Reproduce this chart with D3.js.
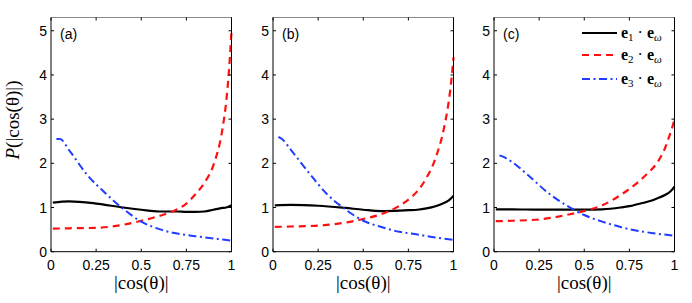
<!DOCTYPE html>
<html>
<head>
<meta charset="utf-8">
<script src="https://cdn.jsdelivr.net/npm/d3@7"></script>
<style>
  body { margin: 0; background: #fff; }
  svg { display: block; }
</style>
</head>
<body>
<svg id="chart" width="692" height="303"></svg>
<script>
const width = 692
const height = 303

// sample positions along |cos(theta)|
const xLine = [0.01, 0.1, 0.25, 0.4, 0.5, 0.6, 0.7, 0.75, 0.8, 0.85, 0.9, 0.95, 0.97, 0.99, 1.0]
const xDash = [0.03, 0.05, 0.1, 0.2, 0.3, 0.4, 0.5, 0.6, 0.7, 0.8, 0.9, 1.0]

const panelLabels = ['(a)', '(b)', '(c)']
const xTicks = [0, 0.25, 0.5, 0.75, 1]
const yTicks = [0, 1, 2, 3, 4, 5]

// panel (a)
const e1A = [1.11, 1.14, 1.09, 1.0, 0.95, 0.91, 0.91, 0.90, 0.90, 0.91, 0.95, 0.99, 1.0, 1.03, 1.05]
const e2A = [0.52, 0.53, 0.54, 0.61, 0.70, 0.81, 0.96, 1.09, 1.30, 1.56, 1.96, 2.78, 3.37, 4.33, 5.0]
const e3A = [2.55, 2.55, 2.3, 1.74, 1.33, 0.97, 0.68, 0.51, 0.41, 0.35, 0.30, 0.25]
// panel (b)
const e1B = [1.05, 1.06, 1.04, 0.99, 0.95, 0.92, 0.93, 0.94, 0.95, 0.98, 1.03, 1.11, 1.15, 1.22, 1.27]
const e2B = [0.56, 0.57, 0.59, 0.66, 0.74, 0.85, 1.04, 1.18, 1.37, 1.67, 2.11, 2.85, 3.3, 3.95, 4.4]
const e3B = [2.6, 2.55, 2.3, 1.78, 1.30, 0.96, 0.70, 0.56, 0.45, 0.39, 0.32, 0.27]
// panel (c)
const e1C = [0.96, 0.96, 0.95, 0.95, 0.95, 0.96, 1.0, 1.03, 1.08, 1.13, 1.2, 1.29, 1.34, 1.42, 1.47]
const e2C = [0.69, 0.70, 0.73, 0.83, 0.92, 1.05, 1.28, 1.42, 1.58, 1.77, 1.99, 2.37, 2.6, 2.85, 3.0]
const e3C = [2.18, 2.15, 2.03, 1.69, 1.33, 1.05, 0.83, 0.68, 0.56, 0.47, 0.41, 0.36]

const seriesStyle = [
  { name: '1', color: '#000000', dash: null, width: 2.2 },
  { name: '2', color: '#ff1010', dash: '7,5', width: 2.2 },
  { name: '3', color: '#1f3cff', dash: '8,3.5,2,3.5', width: 2 }
]

const panels = [
  { label: panelLabels[0], series: [e1A, e2A, e3A] },
  { label: panelLabels[1], series: [e1B, e2B, e3B] },
  { label: panelLabels[2], series: [e1C, e2C, e3C] }
]

const lefts = [51, 273, 494]
const plotW = 180.5
const plotTop = 17.5
const plotBottom = 251.7

const svg = d3.select('#chart')
const y = d3.scaleLinear().domain([0, 5.3]).range([plotBottom, plotTop])

panels.forEach((p, pi) => {
  const x = d3.scaleLinear().domain([0, 1]).range([lefts[pi], lefts[pi] + plotW])
  const g = svg.append('g')

  // curves
  p.series.forEach((vals, si) => {
    const xs = si === 2 ? xDash : xLine
    const pts = vals.map((v, i) => [xs[i], v])
    const st = seriesStyle[si]
    g.append('path')
      .datum(pts)
      .attr('fill', 'none')
      .attr('stroke', st.color)
      .attr('stroke-width', st.width)
      .attr('stroke-dasharray', st.dash)
      .attr('d', d3.line().x(d => x(d[0])).y(d => y(d[1])).curve(d3.curveMonotoneX))
  })

  // box
  g.append('line').attr('x1', x(0)).attr('x2', x(1)).attr('y1', plotTop).attr('y2', plotTop)
    .attr('stroke', '#8a8a8a').attr('stroke-width', 1)
  g.append('line').attr('x1', x(0)).attr('x2', x(1)).attr('y1', plotBottom).attr('y2', plotBottom)
    .attr('stroke', '#000').attr('stroke-width', 1)
  g.append('line').attr('x1', x(0)).attr('x2', x(0)).attr('y1', plotTop).attr('y2', plotBottom)
    .attr('stroke', '#000').attr('stroke-width', 1)
  g.append('line').attr('x1', x(1)).attr('x2', x(1)).attr('y1', plotTop).attr('y2', plotBottom)
    .attr('stroke', '#000').attr('stroke-width', 1)

  // inner ticks
  const tk = 3
  xTicks.forEach(t => {
    g.append('line').attr('x1', x(t)).attr('x2', x(t)).attr('y1', plotBottom).attr('y2', plotBottom - tk).attr('stroke', '#000')
    g.append('line').attr('x1', x(t)).attr('x2', x(t)).attr('y1', plotTop).attr('y2', plotTop + tk).attr('stroke', '#000')
  })
  yTicks.forEach(t => {
    g.append('line').attr('x1', x(0)).attr('x2', x(0) + tk).attr('y1', y(t)).attr('y2', y(t)).attr('stroke', '#000')
    g.append('line').attr('x1', x(1)).attr('x2', x(1) - tk).attr('y1', y(t)).attr('y2', y(t)).attr('stroke', '#000')
  })

  // tick labels
  g.selectAll('.xt').data(xTicks).join('text')
    .attr('x', d => x(d)).attr('y', plotBottom + 18.5)
    .attr('text-anchor', 'middle')
    .attr('font-family', 'Liberation Sans, Arial, sans-serif')
    .attr('font-size', 14)
    .text(d => d3.format('~g')(d))
  g.selectAll('.yt').data(yTicks).join('text')
    .attr('x', x(0) - 4).attr('y', d => y(d) + 5)
    .attr('text-anchor', 'end')
    .attr('font-family', 'Liberation Sans, Arial, sans-serif')
    .attr('font-size', 14)
    .text(d => d)

  // panel label
  g.append('text')
    .attr('x', x(0) + 9).attr('y', plotTop + 21)
    .attr('font-family', 'Liberation Sans, Arial, sans-serif')
    .attr('font-size', 14)
    .text(p.label)

  // x label
  g.append('text')
    .attr('x', x(0.5)).attr('y', 289)
    .attr('text-anchor', 'middle')
    .attr('font-family', 'Liberation Serif, Times New Roman, serif')
    .attr('font-size', 19)
    .text('|cos(θ)|')
})

// y label
svg.append('text')
  .attr('transform', 'translate(19,120) rotate(-90)')
  .attr('text-anchor', 'middle')
  .attr('font-family', 'Liberation Serif, Times New Roman, serif')
  .attr('font-size', 19)
  .call(t => {
    t.append('tspan').attr('font-style', 'italic').text('P')
    t.append('tspan').text('(|cos(θ)|)')
  })

// legend in panel (c)
const legendRows = [33, 55, 79]
const lg = svg.append('g')
seriesStyle.forEach((st, i) => {
  lg.append('line')
    .attr('x1', 582).attr('x2', 617)
    .attr('y1', legendRows[i]).attr('y2', legendRows[i])
    .attr('stroke', st.color)
    .attr('stroke-width', st.width)
    .attr('stroke-dasharray', st.dash)
  const t = lg.append('text')
    .attr('x', 621).attr('y', legendRows[i] + 5)
    .attr('font-family', 'Liberation Serif, Times New Roman, serif')
    .attr('font-size', 16)
  t.append('tspan').attr('font-weight', 'bold').text('e')
  t.append('tspan').attr('font-size', 11).attr('dy', 3).text(st.name)
  t.append('tspan').attr('dy', -3).text(' · ')
  t.append('tspan').attr('font-weight', 'bold').text('e')
  t.append('tspan').attr('font-size', 11).attr('font-style', 'italic').attr('dy', 3).text('ω')
})
</script>
</body>
</html>
